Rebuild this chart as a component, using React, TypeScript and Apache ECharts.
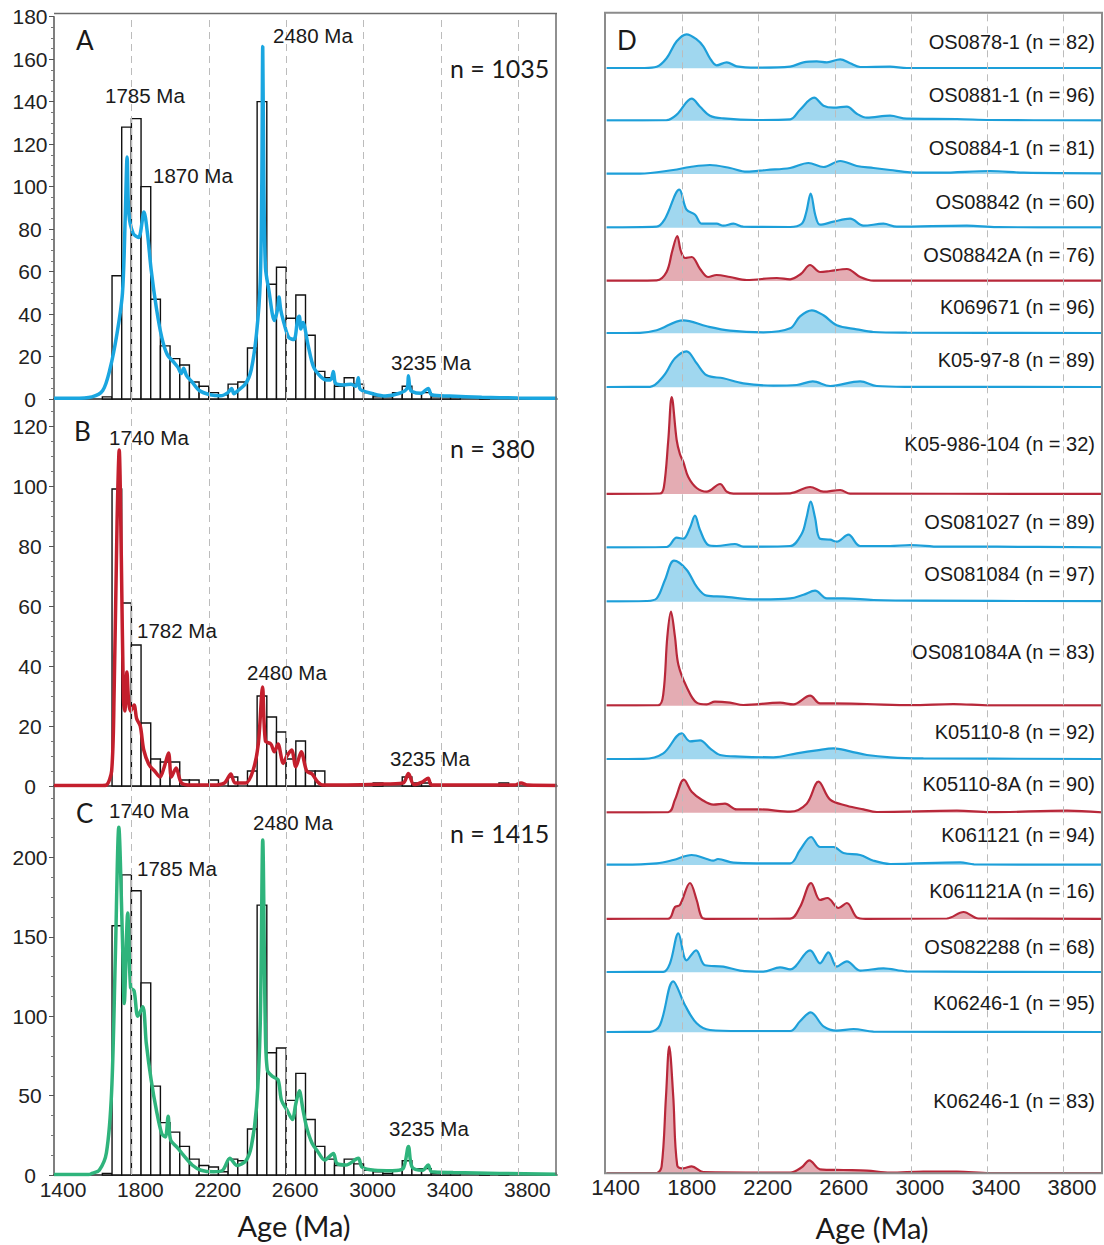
import React, { useEffect, useRef } from "react";
import * as echarts from "echarts";

// ---------------- DATA ----------------
const AGE_MIN = 1400;
const AGE_MAX = 4000;
const AGE_TICKS = [1400, 1800, 2200, 2600, 3000, 3400, 3800];
const GRID_AGES = [1800, 2200, 2600, 3000, 3400, 3800];

// histogram: 50 Ma bins starting at 1650 Ma (counts)
const BIN_START = 1650;
const BIN_WIDTH = 50;
const histA = [1, 58, 128, 132, 100, 47, 25, 19, 16, 8, 6, 3, 2, 7, 8, 24, 140, 54, 62, 38, 49, 30, 13, 10, 6, 10, 7, 3, 1, 1, 3, 6, 3, 3, 1, 1, 1, 0, 0, 1, 0, 0];
const histB = [0, 99, 61, 47, 21, 9, 8, 8, 2, 2, 0, 2, 0, 3, 0, 5, 30, 23, 18, 9, 15, 5, 5, 0, 0, 0, 0, 0, 1, 0, 0, 3, 1, 1, 0, 0, 0, 0, 0, 0, 0, 1];
const histC = [1, 157, 189, 179, 121, 56, 33, 27, 18, 10, 6, 5, 2, 10, 9, 29, 170, 77, 80, 47, 64, 35, 18, 10, 6, 10, 7, 3, 2, 1, 3, 9, 4, 4, 1, 1, 1, 0, 0, 1, 0, 1];

// probability density curves (age Ma, scaled density)
const kdeA: [number, number][] = [[1400,0.3],[1500,0.3],[1596,1],[1652,4],[1689,14],[1726,31],[1754,50],[1768,85],[1778,114],[1787,87],[1809,78],[1837,76],[1865,88],[1883,78],[1902,61],[1929,43],[1957,29],[1985,21],[2022,17],[2040,15],[2058,12],[2070,14.5],[2085,11],[2114,8],[2151,4],[2207,2],[2262,1.5],[2299,3],[2318,5],[2330,2.5],[2345,3.5],[2392,7.4],[2420,14],[2447,31],[2466,55],[2474,100],[2479,166],[2485,100],[2493,62],[2511,51],[2539,37],[2555,42],[2563,48],[2572,42],[2585,37],[2613,29],[2640,28],[2660,38],[2668,39],[2676,33],[2687,36],[2714,25],[2742,15],[2779,10.5],[2807,9],[2830,9],[2844,13],[2852,8],[2862,7],[2899,6.6],[2936,7],[2960,6],[2973,10],[2980,5],[2992,4],[3038,2.7],[3112,1.4],[3186,2.7],[3225,5],[3232,11],[3240,5],[3251,3.5],[3297,2.7],[3334,5],[3352,2],[3445,1.4],[3611,0.8],[3796,0.5],[4000,0.3]];
const kdeB: [number, number][] = [[1400,0.2],[1650,0.2],[1670,0.3],[1698,5],[1711,32],[1726,88],[1737,112],[1748,76],[1759,29],[1766,25],[1777,38],[1786,28],[1796,25],[1814,27],[1827,22.5],[1846,20],[1864,12],[1892,7],[1920,5],[1948,3],[1970,6.4],[1992,11],[2007,3],[2031,6],[2059,1],[2114,0.3],[2225,0.3],[2281,1],[2314,4],[2336,1],[2391,1],[2428,5],[2456,14],[2478,33],[2493,15],[2521,14],[2539,11.4],[2558,14],[2585,7.5],[2604,10],[2628,12],[2650,6.4],[2678,11.4],[2706,5],[2734,4],[2762,1.4],[2790,0.3],[3074,0.6],[3204,1],[3232,4.2],[3260,0.5],[3306,1.4],[3334,2.6],[3352,0.3],[3780,0.3],[3814,1],[3850,0.3],[4000,0.2]];
const kdeC: [number, number][] = [[1400,0.3],[1580,0.3],[1596,1],[1634,3],[1671,14],[1698,53],[1717,137],[1735,219],[1754,148],[1763,108],[1781,165],[1796,118],[1814,116],[1833,100],[1859,106],[1877,83],[1902,60],[1929,41],[1957,26],[1976,24],[1990,37],[2003,22],[2040,17],[2068,12.6],[2114,6.3],[2160,3],[2225,2],[2272,3],[2309,10.5],[2346,6],[2392,9],[2420,18],[2447,43],[2466,95],[2479,211],[2492,95],[2503,66],[2530,62],[2558,60],[2576,47],[2604,41],[2632,35],[2650,45],[2668,53],[2687,41],[2706,30],[2734,20],[2762,15],[2799,9.4],[2844,13.6],[2862,7.3],[2909,6.3],[2973,10.5],[2992,5],[3057,3],[3149,2.7],[3204,4],[3232,18],[3251,5],[3306,3],[3334,6.3],[3352,2],[3463,1.5],[3703,1],[4000,0.5]];

const panelLetters = ["A", "B", "C"];
const panelCounts = ["n = 1035", "n = 380", "n = 1415"];
const peakLabelsA = ["1785 Ma", "1870 Ma", "2480 Ma", "3235 Ma"];
const peakLabelsB = ["1740 Ma", "1782 Ma", "2480 Ma", "3235 Ma"];
const peakLabelsC = ["1740 Ma", "2480 Ma", "1785 Ma", "3235 Ma"];

// panel D ridgelines
const ridgeNames = [
  "OS0878-1 (n = 82)", "OS0881-1 (n = 96)", "OS0884-1 (n = 81)", "OS08842 (n = 60)",
  "OS08842A (n = 76)", "K069671 (n = 96)", "K05-97-8 (n = 89)", "K05-986-104 (n = 32)",
  "OS081027 (n = 89)", "OS081084 (n = 97)", "OS081084A (n = 83)", "K05110-8 (n = 92)",
  "K05110-8A (n = 90)", "K061121 (n = 94)", "K061121A (n = 16)", "OS082288 (n = 68)",
  "K06246-1 (n = 95)", "K06246-1 (n = 83)",
];
const ridgeGroup = ["b","b","b","b","r","b","b","r","b","b","r","b","r","b","r","b","b","r"];
const r1: [number, number][] = [[1400,0.3],[1600,0.3],[1663,1.5],[1715,10],[1768,27],[1820,34],[1873,29],[1908,22],[1943,10],[1978,3],[2031,6],[2083,2],[2188,0.7],[2364,1.7],[2434,6],[2504,7],[2557,6],[2627,9],[2679,5],[2732,1.3],[2889,1.7],[2977,0.3],[4000,0.3]];
const r2: [number, number][] = [[1400,0.3],[1715,0.5],[1768,6],[1847,22],[1891,14],[1943,5],[2013,2.3],[2188,0.7],[2364,1.3],[2416,11],[2490,23],[2539,15],[2592,13],[2662,14],[2714,7],[2767,3],[2889,5],[2977,2],[3240,1.7],[3415,0.7],[4000,0.3]];
const r3: [number, number][] = [[1400,0.3],[1575,0.3],[1750,4],[1838,7],[1943,9],[2048,6],[2136,2.3],[2241,4],[2364,6],[2460,11],[2539,7],[2627,13],[2714,8],[2802,6],[2889,4],[2994,1.7],[3152,1.3],[3415,3],[3590,1.3],[4000,0.7]];
const r4: [number, number][] = [[1400,0.3],[1663,1],[1707,9],[1782,38],[1820,18],[1865,13],[1900,4],[1978,4],[2013,2],[2066,4],[2118,1],[2364,0.7],[2425,4],[2448,15],[2472,34],[2497,12],[2521,3],[2592,6],[2679,9],[2749,2],[2854,4],[2924,1],[3292,2],[3450,0.5],[4000,0.3]];
const r5: [number, number][] = [[1400,0.3],[1663,0.7],[1715,9],[1745,30],[1771,45],[1790,30],[1812,23],[1847,24],[1891,12],[1934,4],[1978,6],[2048,4],[2136,1],[2294,3],[2364,1.7],[2420,7],[2469,16],[2521,9],[2574,10],[2662,12],[2732,4],[2802,0.3],[4000,0.3]];
const r6: [number, number][] = [[1400,0.3],[1575,0.5],[1663,3],[1803,13],[1926,7],[2048,2.7],[2223,1],[2364,5],[2416,17],[2478,23],[2539,18],[2609,8],[2714,4],[2802,1.3],[2977,0.7],[4000,0.3]];
const r7: [number, number][] = [[1400,0.3],[1628,0.5],[1698,11],[1759,29],[1820,36],[1873,24],[1926,12],[2013,9],[2118,4],[2276,1.7],[2399,2.3],[2483,6],[2574,1.3],[2732,6],[2819,1.3],[2977,0.5],[4000,0.3]];
const r8: [number, number][] = [[1400,0.2],[1680,0.5],[1701,7],[1724,54],[1742,97],[1768,54],[1785,40],[1803,32],[1829,17],[1873,6],[1926,2.3],[1996,10],[2031,2.3],[2066,0.3],[2364,0.7],[2469,7],[2539,2.3],[2627,4],[2679,0.3],[4000,0.2]];
const r9: [number, number][] = [[1400,0.3],[1715,0.7],[1768,10],[1803,9],[1838,20],[1864,32],[1890,18],[1934,2.7],[1978,1.7],[2074,3.7],[2118,1],[2364,1.7],[2425,14],[2450,30],[2472,46],[2495,30],[2521,9],[2574,8],[2609,6],[2670,13],[2732,1.7],[2889,1.7],[2994,2.7],[3152,1],[3450,1],[4000,0.3]];
const r10: [number, number][] = [[1400,0.3],[1610,0.7],[1663,3.3],[1707,22],[1754,41],[1820,32],[1873,15],[1926,6],[2013,5],[2188,2.3],[2364,3.3],[2434,7],[2495,11],[2557,3.3],[2644,3.3],[2802,1.7],[3064,1],[4000,0.5]];
const r11: [number, number][] = [[1400,0.3],[1672,0.5],[1698,12],[1719,69],[1738,94],[1759,69],[1777,41],[1820,19],[1873,3],[1926,1.3],[1969,4],[2048,3],[2118,0.7],[2311,3],[2381,1.3],[2469,10],[2521,2.3],[2592,2.3],[2767,1.7],[3000,0.5],[3222,1.7],[3415,0.3],[4000,0.3]];
const r12: [number, number][] = [[1400,0.3],[1593,0.5],[1698,6],[1794,26],[1838,18],[1891,19],[1943,11],[1996,4.3],[2101,2.7],[2276,2],[2399,6],[2504,9],[2592,11],[2679,8],[2767,4.3],[2889,2],[3064,1],[4000,0.3]];
const r13: [number, number][] = [[1400,0.3],[1724,0.5],[1759,13],[1806,33],[1847,21],[1900,13],[1961,8],[2022,9],[2083,3.3],[2206,3.3],[2364,1],[2451,9],[2513,31],[2574,13],[2662,7],[2749,3.3],[2819,0.7],[3240,2],[3415,0.5],[3818,2],[4000,0.3]];
const r14: [number, number][] = [[1400,0.3],[1488,0.3],[1663,1.7],[1750,5],[1847,10],[1926,6],[1960,4.3],[1985,6],[2066,2.3],[2188,1.7],[2364,1.7],[2416,15],[2474,28],[2521,18],[2592,18],[2644,12],[2732,10],[2802,4.3],[2889,1],[3258,2.7],[3330,0.7],[4000,0.3]];
const r15: [number, number][] = [[1400,0.2],[1724,0.3],[1759,12],[1785,14],[1838,36],[1873,19],[1900,1.7],[1930,0.2],[2364,0.3],[2416,12],[2474,36],[2521,19],[2560,21],[2618,11],[2662,16],[2714,1.7],[2760,0.2],[3187,0.5],[3275,7],[3353,0.5],[4000,0.2]];
const r16: [number, number][] = [[1400,0.3],[1698,0.5],[1733,9],[1777,39],[1820,12],[1870,22],[1917,7],[2013,5.7],[2101,1.7],[2223,0.7],[2311,5],[2364,3],[2469,22],[2521,9],[2565,20],[2609,5.7],[2662,11],[2732,1.7],[2854,4],[2977,1],[4000,0.3]];
const r17: [number, number][] = [[1400,0.3],[1628,0.5],[1680,7],[1750,51],[1812,27],[1873,9],[1943,2.3],[2101,1.3],[2364,1.3],[2416,11],[2472,20],[2539,6],[2609,1.7],[2697,3.3],[2802,0.7],[4000,0.3]];
const r18: [number, number][] = [[1400,0.3],[1663,0.3],[1689,7],[1712,77],[1729,127],[1750,77],[1771,8],[1803,5],[1847,7],[1908,1.3],[2364,0.7],[2425,6],[2465,13],[2521,4],[2644,3.3],[2767,2.7],[2889,0.7],[3064,1.7],[3240,1.7],[3415,0.3],[4000,0.3]];
const ridgeData = [r1, r2, r3, r4, r5, r6, r7, r8, r9, r10, r11, r12, r13, r14, r15, r16, r17, r18];

// ---------------- LAYOUT / STYLE ----------------
const LEFT_X = 54;
const LEFT_W = 503;
const leftPanels = [
  { top: 16.7, bottom: 399, max: 180, interval: 20, color: "#1aa6e0", hist: histA, kde: kdeA },
  { top: 399, bottom: 786, max: 129, interval: 20, color: "#c41f2d", hist: histB, kde: kdeB },
  { top: 786, bottom: 1175, max: 245, interval: 50, color: "#2fb47c", hist: histC, kde: kdeC },
];
const letterPos = [[76, 40], [74, 431], [76, 813]];
const countPos = [[450, 68], [450, 448], [450, 833]];
const peakPosA = [[105, 95], [153, 175], [273, 35], [391, 362]];
const peakPosB = [[109, 437], [137, 630], [247, 672], [390, 758]];
const peakPosC = [[109, 810], [253, 822], [137, 868], [389, 1128]];

const D_X = 606.6;
const D_W = 495;
const D_TOP = 12.7;
const D_BOTTOM = 1173.3;
const ridgeBaselines = [68.3, 120.7, 174, 227.7, 281, 333.3, 387.3, 494, 547.7, 601.7, 705.7, 759.3, 812.7, 865, 919, 972.3, 1032.3, 1173.3];
const ridgeLabelY = [41.7, 95, 148, 201.7, 255, 306.7, 360, 444, 521.7, 574, 651.7, 731.7, 784, 835, 891, 946.7, 1002.7, 1100.7];
const DENS_PX = 1; // px per density unit in panel D

const BLUE = { line: "#1d9fd9", fill: "rgba(29,159,217,0.6)" };
const RED = { line: "#b8283a", fill: "rgba(184,40,58,0.55)" };
const SANS = "Liberation Sans";
const CAL = "Lato";

function txt(text: string, x: number, y: number, size: number, family: string, align = "left") {
  return {
    type: "text", x, y, z: 100,
    style: { text, fontSize: size, fontFamily: family, fill: "#1a1a1a", align, verticalAlign: "middle", textAlign: align, textVerticalAlign: "middle" },
  };
}

function ageLabel(show: boolean, size: number, margin: number) {
  return {
    show, fontSize: size, margin, color: "#222", fontFamily: SANS, padding: [0, 0, 0, 18],
    formatter: (v: number) => (AGE_TICKS.includes(Math.round(v)) ? String(Math.round(v)) : ""),
  };
}

const gridMarkLine = {
  silent: true, symbol: "none", label: { show: false },
  lineStyle: { color: "#bcbcbc", type: [7, 5], width: 1 },
  data: GRID_AGES.map((v) => ({ xAxis: v })),
};

function buildOption() {
  const grid: any[] = [];
  const xAxis: any[] = [];
  const yAxis: any[] = [];
  const series: any[] = [];
  const graphic: any[] = [];

  leftPanels.forEach((p, i) => {
    grid.push({ left: LEFT_X, width: LEFT_W, top: p.top, height: p.bottom - p.top });
    xAxis.push({
      gridIndex: i, type: "value", min: AGE_MIN, max: AGE_MAX, interval: 200,
      axisLine: { show: true, onZero: false, lineStyle: { color: "#222", width: 1.5 } },
      axisTick: { show: false }, splitLine: { show: false },
      axisLabel: ageLabel(i === 2, 21, 4),
    });
    yAxis.push({
      gridIndex: i, type: "value", min: 0, max: p.max, interval: p.interval,
      axisLine: { show: true, lineStyle: { color: "#555", width: 1.5 } },
      axisTick: { show: true, length: 5, lineStyle: { color: "#555" } },
      minorTick: { show: true, splitNumber: 4, length: 3, lineStyle: { color: "#777" } },
      splitLine: { show: false },
      axisLabel: {
        fontSize: 21, color: "#222", fontFamily: SANS, margin: 24, align: "center",
        formatter: (v: number) => (Math.round(v) % p.interval === 0 ? String(Math.round(v)) : ""),
      },
    });
    const hd = p.hist
      .map((c, k) => [BIN_START + k * BIN_WIDTH, BIN_START + (k + 1) * BIN_WIDTH, c])
      .filter((d) => d[2] > 0);
    series.push({
      type: "custom", xAxisIndex: i, yAxisIndex: i, z: 2,
      data: hd, encode: { x: [0, 1], y: 2 },
      renderItem: (params: any, api: any) => {
        const a = api.coord([api.value(0), api.value(2)]);
        const b = api.coord([api.value(1), 0]);
        return {
          type: "rect",
          shape: { x: a[0], y: a[1], width: b[0] - a[0], height: b[1] - a[1] },
          style: { fill: "#ffffff", stroke: "#111", lineWidth: 1.4 },
        };
      },
      markLine: gridMarkLine,
    });
    series.push({
      type: "line", xAxisIndex: i, yAxisIndex: i, z: 3, data: p.kde,
      smooth: 0.3, symbol: "none", showSymbol: false,
      lineStyle: { color: p.color, width: 3.5 },
    });
    graphic.push(txt(panelLetters[i], letterPos[i][0], letterPos[i][1], 26, CAL));
    graphic.push(txt(panelCounts[i], countPos[i][0], countPos[i][1], 25, CAL));
  });

  peakLabelsA.forEach((t, k) => graphic.push(txt(t, peakPosA[k][0], peakPosA[k][1], 20.5, SANS)));
  peakLabelsB.forEach((t, k) => graphic.push(txt(t, peakPosB[k][0], peakPosB[k][1], 20.5, SANS)));
  peakLabelsC.forEach((t, k) => graphic.push(txt(t, peakPosC[k][0], peakPosC[k][1], 20.5, SANS)));

  // left frame (top + right)
  graphic.push({ type: "line", z: 50, shape: { x1: LEFT_X, y1: 13.5, x2: LEFT_X + LEFT_W, y2: 13.5 }, style: { stroke: "#6b6b6b", lineWidth: 1.5 } });
  graphic.push({ type: "line", z: 50, shape: { x1: LEFT_X + LEFT_W - 1, y1: 13.5, x2: LEFT_X + LEFT_W - 1, y2: 1175 }, style: { stroke: "#6b6b6b", lineWidth: 1.5 } });

  // panel D background grid (gridlines + labels)
  const dIdx = 3;
  grid.push({ left: D_X, width: D_W, top: D_TOP, height: D_BOTTOM - D_TOP });
  xAxis.push({
    gridIndex: dIdx, type: "value", min: AGE_MIN, max: AGE_MAX, interval: 200,
    axisLine: { show: false }, axisTick: { show: false }, splitLine: { show: false },
    axisLabel: ageLabel(true, 22, 3),
  });
  yAxis.push({ gridIndex: dIdx, type: "value", min: 0, max: 1, show: false });
  series.push({
    type: "line", xAxisIndex: dIdx, yAxisIndex: dIdx, data: [[AGE_MIN, 0]],
    symbol: "none", lineStyle: { width: 0 }, markLine: gridMarkLine, z: 1,
  });

  ridgeData.forEach((d, k) => {
    const gi = 4 + k;
    const top = k === 0 ? D_TOP : ridgeBaselines[k - 1];
    const h = ridgeBaselines[k] - top;
    const c = ridgeGroup[k] === "r" ? RED : BLUE;
    grid.push({ left: D_X, width: D_W, top, height: h });
    xAxis.push({ gridIndex: gi, type: "value", min: AGE_MIN, max: AGE_MAX, show: false });
    yAxis.push({ gridIndex: gi, type: "value", min: 0, max: h / DENS_PX, show: false });
    series.push({
      type: "line", xAxisIndex: gi, yAxisIndex: gi, data: d, z: 3,
      smooth: 0.35, symbol: "none", showSymbol: false,
      lineStyle: { color: c.line, width: 2.2 },
      areaStyle: { color: c.fill, origin: "start" },
    });
    graphic.push(txt(ridgeNames[k], 1095, ridgeLabelY[k], 20, SANS, "right"));
  });

  graphic.push(txt("D", 617, 40, 26, CAL));
  graphic.push({ type: "rect", z: 50, shape: { x: 605, y: D_TOP, width: 497, height: D_BOTTOM - D_TOP }, style: { fill: "none", stroke: "#8c8c8c", lineWidth: 2 } });

  graphic.push(txt("Age (Ma)", 294, 1225, 29, CAL, "center"));
  graphic.push(txt("Age (Ma)", 872, 1227, 29, CAL, "center"));

  return { animation: false, backgroundColor: "#ffffff", grid, xAxis, yAxis, series, graphic };
}

export default function App() {
  const ref = useRef<HTMLDivElement>(null);
  useEffect(() => {
    document.body.style.margin = "0";
    const chart = echarts.init(ref.current as HTMLDivElement, null, { renderer: "svg" });
    chart.setOption(buildOption() as any);
    return () => chart.dispose();
  }, []);
  return <div ref={ref} style={{ width: 1104, height: 1245, background: "#fff" }} />;
}
